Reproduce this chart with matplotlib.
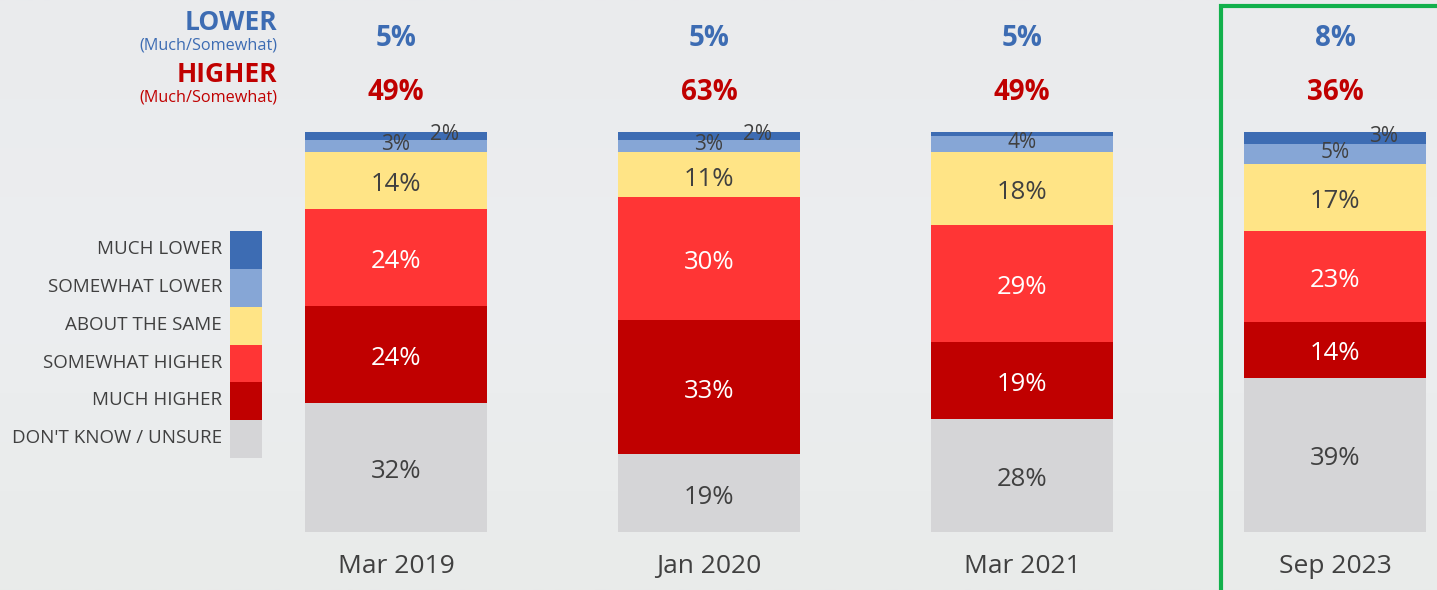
import numpy as np
import matplotlib
matplotlib.use("Agg")
import matplotlib.pyplot as plt
from matplotlib.patches import Rectangle

plt.rcParams['font.family'] = ['Open Sans', 'DejaVu Sans']

# data (bottom to top of each bar)
periods = ['Mar 2019', 'Jan 2020', 'Mar 2021', 'Sep 2023']
dont_know = [32, 19, 28, 39]
much_higher = [24, 33, 19, 14]
somewhat_higher = [24, 30, 29, 23]
about_same = [14, 11, 18, 17]
somewhat_lower = [3, 3, 4, 5]
much_lower = [2, 2, 1, 3]
net_lower = [5, 5, 5, 8]
net_higher = [49, 63, 49, 36]

legend_labels = ['MUCH LOWER', 'SOMEWHAT LOWER', 'ABOUT THE SAME',
                 'SOMEWHAT HIGHER', 'MUCH HIGHER', "DON'T KNOW / UNSURE"]

BLUE = '#3d6cb3'
RED = '#c00000'
GREY_TXT = '#404040'
seg_colors = ['#d5d5d7', '#c00000', '#ff3535', '#ffe486', '#86a6d6', '#3d6cb3']
txt_colors = [GREY_TXT, 'white', 'white', GREY_TXT, GREY_TXT, GREY_TXT]

W, H = 1437, 590
fig = plt.figure(figsize=(W / 100, H / 100), dpi=100, facecolor='#ecedef')

# faint background gradient, lighter towards the bottom
bg = fig.add_axes([0, 0, 1, 1], zorder=-10)
grad = np.linspace(0, 1, 256)[:, None]
bg.imshow(grad, aspect='auto', cmap=matplotlib.colors.LinearSegmentedColormap.from_list(
    'bg', ['#eaebed', '#eceef0', '#e9ebea']), extent=[0, 1, 0, 1])
bg.axis('off')

# main axes: bars from y=532px (0%) to y=132px (100%), bar centers 313px apart
x0, step = 396, 313
ax = fig.add_axes([0, (H - 532) / H, 1, 400 / H])
ax.set_facecolor('none')
ax.set_xlim(-x0 / step, (W - x0) / step)
ax.set_ylim(0, 100)
for s in ax.spines.values():
    s.set_visible(False)
ax.set_yticks([])

x = np.arange(len(periods))
series = [dont_know, much_higher, somewhat_higher, about_same, somewhat_lower, much_lower]
data = np.array(series, dtype=float)
norm = data / data.sum(axis=0) * 100
bottom = np.zeros(len(periods))
for k, (vals, col) in enumerate(zip(norm, seg_colors)):
    ax.bar(x, vals, bottom=bottom, width=182 / step, color=col, edgecolor='none')
    for i in range(len(periods)):
        raw = data[k, i]
        if raw < 2:
            continue
        cy = bottom[i] + vals[i] / 2
        small = raw < 6
        dx = 35 if k == 5 else 0
        dy = 1 if small else -3
        ax.annotate(f'{int(raw)}%', (x[i], cy), xytext=(dx, dy), textcoords='offset points',
                    ha='center', va='center', fontsize=15 if small else 18.5,
                    color=txt_colors[k])
    bottom += vals

ax.set_xticks(x, periods)
ax.tick_params(axis='x', length=0, pad=16, labelsize=19, labelcolor=GREY_TXT)

# net figures above bars
for i in range(len(periods)):
    fig.text((x0 + step * i) / W, 1 - 39 / H, f'{net_lower[i]}%', ha='center', va='center',
             fontsize=20, fontweight='bold', color=BLUE)
    fig.text((x0 + step * i) / W, 1 - 92 / H, f'{net_higher[i]}%', ha='center', va='center',
             fontsize=20, fontweight='bold', color=RED)

fig.text(277 / W, 1 - 22 / H, 'LOWER', ha='right', va='center', fontsize=19,
         fontweight='bold', color=BLUE)
fig.text(277 / W, 1 - 45 / H, '(Much/Somewhat)', ha='right', va='center', fontsize=11.7, color=BLUE)
fig.text(277 / W, 1 - 75 / H, 'HIGHER', ha='right', va='center', fontsize=19,
         fontweight='bold', color=RED)
fig.text(277 / W, 1 - 97 / H, '(Much/Somewhat)', ha='right', va='center', fontsize=11.7, color=RED)

# legend swatches
lg = fig.add_axes([230 / W, (H - 458) / H, 32 / W, 227 / H])
lg.set_xlim(0, 1)
lg.set_ylim(0, len(legend_labels))
lg.axis('off')
leg_colors = seg_colors[::-1]
for j, (lab, col) in enumerate(zip(legend_labels, leg_colors)):
    yy = len(legend_labels) - j - 1
    lg.bar(0.5, 1, bottom=yy, width=1, color=col, edgecolor='none')
    lg.text(-8 / 32, yy + 0.52, lab, ha='right', va='center', fontsize=13.5, color=GREY_TXT)

# highlight box around latest wave
fig.patches.append(Rectangle((1221 / W, -0.1), 0.2, 1.1 - 6 / H, transform=fig.transFigure,
                             fill=False, edgecolor='#12b04c', linewidth=3))

fig.savefig('out.png', dpi=100, facecolor=fig.get_facecolor())
